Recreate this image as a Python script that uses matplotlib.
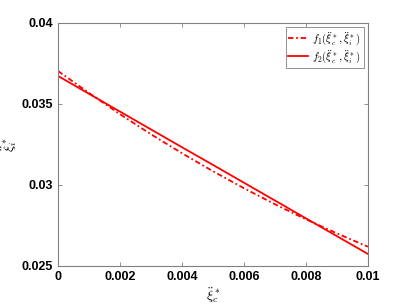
import matplotlib
matplotlib.use("Agg")
import matplotlib.pyplot as plt

plt.rcParams['mathtext.fontset'] = 'cm'
plt.rcParams['font.family'] = ['Liberation Sans', 'DejaVu Sans']

xc = [0.0, 0.001, 0.002, 0.003, 0.004, 0.005, 0.006, 0.007, 0.008, 0.009, 0.01]
f1 = [0.03704, 0.03568, 0.03437, 0.03313, 0.03196, 0.03085, 0.02980, 0.02881, 0.02788, 0.02701, 0.02619]
f2 = [0.03673, 0.03563, 0.03453, 0.03343, 0.03233, 0.03124, 0.03014, 0.02904, 0.02794, 0.02684, 0.02574]
xticks = [0, 0.002, 0.004, 0.006, 0.008, 0.01]
xticklabels = ['0', '0.002', '0.004', '0.006', '0.008', '0.01']
yticks = [0.025, 0.03, 0.035, 0.04]
yticklabels = ['0.025', '0.03', '0.035', '0.04']

fig = plt.figure(figsize=(4.07, 3.05), dpi=100)
ax = fig.add_axes([0.1425, 0.128, 0.904 - 0.1425, 0.9246 - 0.128])
ax.plot(xc, f1, color='red', linestyle=(0, (3, 1.5, 1, 1.5)), linewidth=1.3,
        label=r'$f_1(\ddot{\xi}_c^*,\ddot{\xi}_i^*)$')
ax.plot(xc, f2, color='red', linestyle='-', linewidth=1.3, label=r'$f_2(\ddot{\xi}_c^*,\ddot{\xi}_i^*)$')
ax.set_xlim(0, 0.01)
ax.set_ylim(0.025, 0.04)
ax.set_xticks(xticks)
ax.set_xticklabels(xticklabels, fontsize=9, fontweight='bold')
ax.set_yticks(yticks)
ax.set_yticklabels(yticklabels, fontsize=9, fontweight='bold')
ax.tick_params(direction='in', top=True, right=True, length=3, color='#808080', width=0.6)
for s in ax.spines.values():
    s.set_color('#808080')
    s.set_linewidth(0.8)
ax.set_xlabel(r'$\ddot{\xi}_c^*$', fontsize=10, labelpad=2)
ax.set_ylabel(r'$\ddot{\xi}_i^*$', fontsize=10, labelpad=2)
leg = ax.legend(loc='upper right', fontsize=7.8, fancybox=False, framealpha=1,
                edgecolor='#808080', handlelength=1.8, borderpad=0.25, labelspacing=0.15,
                handletextpad=0.4, borderaxespad=0.4)
leg.get_frame().set_linewidth(0.6)
fig.savefig('out.png', dpi=100)
